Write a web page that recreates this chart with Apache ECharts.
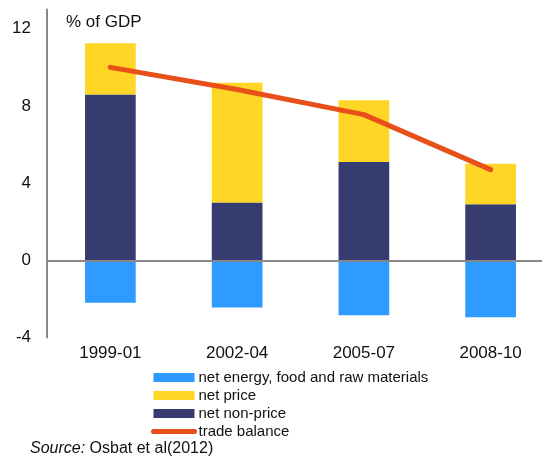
<!DOCTYPE html>
<html>
<head>
<meta charset="utf-8">
<script src="https://cdn.jsdelivr.net/npm/echarts@6/dist/echarts.min.js"></script>
<style>
  html, body { margin: 0; padding: 0; background: #fff; overflow: hidden; }
  #chart { width: 554px; height: 456px; }
</style>
</head>
<body>
<div id="chart"></div>
<script>
// data (% of GDP)
var periods = ['1999-01', '2002-04', '2005-07', '2008-10'];
var energy = [-2.2, -2.45, -2.85, -2.95];
var netPrice = [2.65, 6.2, 3.2, 2.1];
var netNonPrice = [8.6, 3.0, 5.1, 2.9];
var tradeBalance = [10.0, 8.85, 7.55, 4.7];
var yTicks = [-4, 0, 4, 8, 12];

// chart is a bit wider than the window so the last band runs off the right edge like the original
var myChart = echarts.init(document.getElementById('chart'));

myChart.setOption({
    animation: false,
    textStyle: { fontFamily: 'Liberation Sans, Arial, sans-serif' },
    grid: { left: 47, right: 0, top: 9.5, bottom: 118.5 },
    legend: {
        orient: 'vertical',
        left: 151,
        top: 370,
        padding: 0,
        itemWidth: 41,
        itemHeight: 9,
        itemGap: 3,
        textStyle: { fontSize: 15, color: '#111', lineHeight: 15, padding: [0, 0, 0, -1] },
        data: [
            { name: 'net energy, food and raw materials', icon: 'rect' },
            { name: 'net price', icon: 'rect' },
            { name: 'net non-price', icon: 'rect' },
            { name: 'trade balance', itemStyle: { opacity: 0 }, lineStyle: { width: 5, cap: 'round', color: '#E8501A' } }
        ]
    },
    xAxis: {
        type: 'category',
        data: periods,
        axisLine: { show: false },
        axisTick: { show: false },
        axisLabel: { fontSize: 17, color: '#111', margin: 7 }
    },
    yAxis: {
        type: 'value',
        min: -4,
        max: 13,
        interval: 4,
        splitLine: { show: false },
        axisTick: { show: false },
        axisLine: { show: true, lineStyle: { color: '#888', width: 2 } },
        axisLabel: {
            fontSize: 17, color: '#111', margin: 16,
            showMaxLabel: false,
            formatter: function (v) { return yTicks.indexOf(v) >= 0 ? v : ''; }
        }
    },
    graphic: [
        {
            type: 'text', left: 66, top: 14,
            style: { text: '% of GDP', fontSize: 17, fill: '#111', fontFamily: 'Liberation Sans, Arial, sans-serif' }
        },
        {
            type: 'text', left: 30, top: 441,
            style: {
                text: '{i|Source:} Osbat et al(2012)',
                fontSize: 16, fill: '#111', fontFamily: 'Liberation Sans, Arial, sans-serif',
                rich: { i: { fontStyle: 'italic', fontSize: 16, fill: '#111', fontFamily: 'Liberation Sans, Arial, sans-serif' } }
            }
        }
    ],
    series: [
        {
            name: 'net non-price',
            type: 'bar',
            stack: 'a',
            barWidth: '40%',
            itemStyle: { color: '#363C70' },
            data: netNonPrice
        },
        {
            name: 'net price',
            type: 'bar',
            stack: 'a',
            itemStyle: { color: '#FFD625' },
            data: netPrice
        },
        {
            name: 'net energy, food and raw materials',
            type: 'bar',
            stack: 'a',
            itemStyle: { color: '#2F9AFF' },
            data: energy,
            markLine: {
                silent: true,
                symbol: 'none',
                label: { show: false },
                lineStyle: { color: '#888', width: 2, type: 'solid' },
                data: [{ yAxis: 0 }]
            }
        },
        {
            name: 'trade balance',
            type: 'line',
            symbol: 'none',
            z: 5,
            lineStyle: { color: '#E8501A', width: 5, cap: 'round' },
            itemStyle: { color: '#E8501A' },
            data: tradeBalance
        }
    ]
});
</script>
</body>
</html>
